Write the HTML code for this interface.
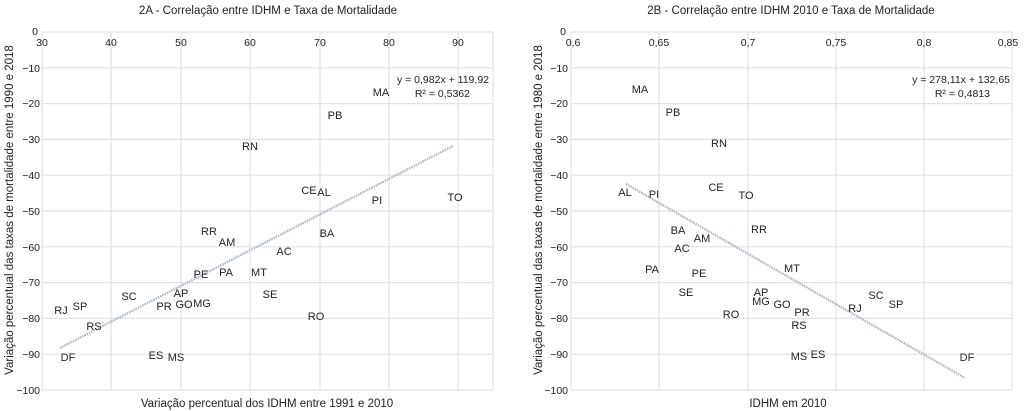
<!DOCTYPE html>
<html><head><meta charset="utf-8"><style>
html,body{margin:0;padding:0;background:#fff;width:1024px;height:411px;overflow:hidden;}
svg{display:block;}
text{font-family:"Liberation Sans Narrow","Liberation Sans",sans-serif;fill:#222;}
.t{font-size:11.5px;}
.lab{font-size:11px;text-anchor:middle;dominant-baseline:central;}
.tk{font-size:10.5px;}
.g{stroke:#e2e2e6;stroke-width:1.2;}
</style></head><body>
<svg width="1024" height="411" viewBox="0 0 1024 411">
<!-- LEFT CHART -->
<text class="t" x="268" y="14" text-anchor="middle">2A - Correlação entre IDHM e Taxa de Mortalidade</text>
<g>
<rect x="42" y="32" width="451" height="358" fill="none" stroke="#dcdce0"/>
<line class="g" x1="111" y1="32" x2="111" y2="390"/><line class="g" x1="181" y1="32" x2="181" y2="390"/>
<line class="g" x1="250" y1="32" x2="250" y2="390"/><line class="g" x1="320" y1="32" x2="320" y2="390"/>
<line class="g" x1="389" y1="32" x2="389" y2="390"/><line class="g" x1="458" y1="32" x2="458" y2="390"/>
<line class="g" x1="42" y1="67.8" x2="493" y2="67.8"/><line class="g" x1="42" y1="103.6" x2="493" y2="103.6"/>
<line class="g" x1="42" y1="139.4" x2="493" y2="139.4"/><line class="g" x1="42" y1="175.2" x2="493" y2="175.2"/>
<line class="g" x1="42" y1="211" x2="493" y2="211"/><line class="g" x1="42" y1="246.8" x2="493" y2="246.8"/>
<line class="g" x1="42" y1="282.6" x2="493" y2="282.6"/><line class="g" x1="42" y1="318.4" x2="493" y2="318.4"/>
<line class="g" x1="42" y1="354.2" x2="493" y2="354.2"/>
</g>
<g class="tk" text-anchor="middle">
<text x="42" y="46">30</text><text x="111" y="46">40</text><text x="181" y="46">50</text><text x="250" y="46">60</text><text x="320" y="46">70</text><text x="389" y="46">80</text><text x="458" y="46">90</text>
</g>
<g class="tk" text-anchor="end">
<text x="38" y="35">0</text><text x="40" y="72">−10</text><text x="40" y="107">−20</text><text x="40" y="143">−30</text><text x="40" y="179">−40</text>
<text x="40" y="215">−50</text><text x="40" y="251">−60</text><text x="40" y="286">−70</text><text x="40" y="322">−80</text><text x="40" y="358">−90</text><text x="40" y="394">−100</text>
</g>
<text class="t" transform="translate(13,210) rotate(-90)" text-anchor="middle">Variação percentual das taxas de mortalidade entre 1990 e 2018</text>
<text class="t" x="267" y="407" text-anchor="middle">Variação percentual dos IDHM entre 1991 e 2010</text>
<line x1="60" y1="348" x2="453" y2="146" stroke="#a9b0c8" stroke-width="2.2" stroke-dasharray="1.5,1"/>
<text class="tk" x="489" y="83" text-anchor="end">y = 0,982x + 119,92</text>
<text class="tk" x="470" y="97" text-anchor="end">R² = 0,5362</text>
<g class="lab">
<text x="381" y="93">MA</text><text x="335" y="116">PB</text><text x="250" y="147">RN</text><text x="309" y="191">CE</text><text x="324" y="193">AL</text>
<text x="377" y="201">PI</text><text x="455" y="198">TO</text><text x="209" y="232">RR</text><text x="227" y="243">AM</text><text x="327" y="234">BA</text>
<text x="284" y="252">AC</text><text x="201" y="275">PE</text><text x="226" y="273">PA</text><text x="259" y="273">MT</text><text x="270" y="295">SE</text>
<text x="181" y="294">AP</text><text x="164" y="307">PR</text><text x="184" y="305">GO</text><text x="202" y="304">MG</text><text x="129" y="297">SC</text>
<text x="61" y="311">RJ</text><text x="80" y="307">SP</text><text x="94" y="327">RS</text><text x="316" y="317">RO</text><text x="68" y="358">DF</text>
<text x="156" y="356">ES</text><text x="176" y="358">MS</text>
</g>

<!-- RIGHT CHART -->
<text class="t" x="791" y="14" text-anchor="middle">2B - Correlação entre IDHM 2010 e Taxa de Mortalidade</text>
<g>
<rect x="571" y="32" width="441" height="358" fill="none" stroke="#dcdce0"/>
<line class="g" x1="659" y1="32" x2="659" y2="390"/><line class="g" x1="748" y1="32" x2="748" y2="390"/>
<line class="g" x1="836" y1="32" x2="836" y2="390"/><line class="g" x1="924" y1="32" x2="924" y2="390"/>
<line class="g" x1="571" y1="67.8" x2="1012" y2="67.8"/><line class="g" x1="571" y1="103.6" x2="1012" y2="103.6"/>
<line class="g" x1="571" y1="139.4" x2="1012" y2="139.4"/><line class="g" x1="571" y1="175.2" x2="1012" y2="175.2"/>
<line class="g" x1="571" y1="211" x2="1012" y2="211"/><line class="g" x1="571" y1="246.8" x2="1012" y2="246.8"/>
<line class="g" x1="571" y1="282.6" x2="1012" y2="282.6"/><line class="g" x1="571" y1="318.4" x2="1012" y2="318.4"/>
<line class="g" x1="571" y1="354.2" x2="1012" y2="354.2"/>
</g>
<g class="tk" text-anchor="middle">
<text x="573" y="46">0,6</text><text x="659" y="46">0,65</text><text x="748" y="46">0,7</text><text x="836" y="46">0,75</text><text x="924" y="46">0,8</text><text x="1008" y="46">0,85</text>
</g>
<g class="tk" text-anchor="end">
<text x="566" y="35">0</text><text x="568" y="72">−10</text><text x="568" y="107">−20</text><text x="568" y="143">−30</text><text x="568" y="179">−40</text>
<text x="568" y="215">−50</text><text x="568" y="251">−60</text><text x="568" y="286">−70</text><text x="568" y="322">−80</text><text x="568" y="358">−90</text><text x="568" y="394">−100</text>
</g>
<text class="t" transform="translate(542,210) rotate(-90)" text-anchor="middle">Variação percentual das taxas de mortalidade entre 1980 e 2018</text>
<text class="t" x="788" y="407" text-anchor="middle">IDHM em 2010</text>
<line x1="626" y1="184" x2="965" y2="378" stroke="#a9b0c8" stroke-width="2.2" stroke-dasharray="1.5,1"/>
<text class="tk" x="1010" y="83" text-anchor="end">y = 278,11x + 132,65</text>
<text class="tk" x="990" y="97" text-anchor="end">R² = 0,4813</text>
<g class="lab">
<text x="640" y="90">MA</text><text x="673" y="113">PB</text><text x="719" y="144">RN</text><text x="716" y="188">CE</text><text x="746" y="196">TO</text>
<text x="625" y="193">AL</text><text x="654" y="195">PI</text><text x="678" y="231">BA</text><text x="759" y="230">RR</text><text x="702" y="239">AM</text>
<text x="682" y="249">AC</text><text x="792" y="269">MT</text><text x="652" y="270">PA</text><text x="699" y="274">PE</text><text x="686" y="293">SE</text>
<text x="761" y="293">AP</text><text x="761" y="302">MG</text><text x="782" y="305">GO</text><text x="802" y="313">PR</text><text x="855" y="309">RJ</text>
<text x="876" y="296">SC</text><text x="896" y="305">SP</text><text x="799" y="326">RS</text><text x="731" y="315">RO</text><text x="967" y="358">DF</text>
<text x="818" y="355">ES</text><text x="799" y="357">MS</text>
</g>
</svg>
</body></html>
